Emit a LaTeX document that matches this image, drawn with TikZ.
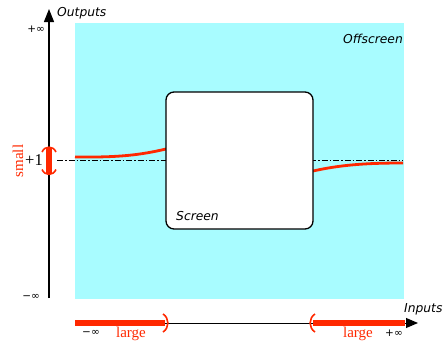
\documentclass[tikz,border=0pt]{standalone}
\usepackage{fontspec}
\setmainfont{Liberation Serif}
\newfontfamily\dvs{DejaVu Sans}
\usetikzlibrary{arrows.meta}
\definecolor{offcyan}{RGB}{168,252,255}
\definecolor{hot}{RGB}{255,40,0}
\tikzset{
  axis/.style={black, line width=1.2pt},
  lbl/.style={font=\dvs\itshape\fontsize{12.3}{14}\selectfont, inner sep=0pt},
  inf/.style={font=\dvs\fontsize{10.5}{12}\selectfont, inner sep=0pt},
  redtxt/.style={text=hot, font=\fontsize{15}{17}\selectfont, inner sep=0pt},
  redbar/.style={hot, line width=6.5pt},
  redarc/.style={hot, line width=1.6pt},
  redcurve/.style={hot, line width=2.8pt},
  dashdot/.style={black, line width=0.9pt, dash pattern=on 6pt off 2pt on 1.5pt off 2pt},
}
\begin{document}
\begin{tikzpicture}[x=1pt,y=-1pt]
\useasboundingbox (0,0) rectangle (445,346);
% offscreen region
\fill[offcyan] (75,23) rectangle (404,299);
\node[lbl, anchor=east] (off) at (403,39) {Offscreen};
% dash-dot reference line
\coordinate (dl0) at (57,160.5);
\coordinate (dl1) at (403,160.5);
\draw[dashdot] (dl0) -- (dl1);
% red curves
\coordinate (cl0) at (75,157);
\coordinate (cl1) at (166,149);
\draw[redcurve] (cl0) .. controls (120,157.5) and (140,155) .. (cl1);
\coordinate (cr0) at (313,171);
\coordinate (cr1) at (403,163);
\draw[redcurve] (cr0) .. controls (340,165) and (365,163) .. (cr1);
% screen
\draw[black, line width=1.3pt, fill=white, rounded corners=8pt] (166,92) rectangle (313,229);
\node[lbl, anchor=west] (scr) at (176,216) {Screen};
% y axis
\coordinate (ybot) at (49,298);
\coordinate (ytop) at (49,9);
\draw[axis, -{Triangle[length=13pt,width=10pt]}] (ybot) -- (ytop);
\node[lbl, anchor=west] (out) at (57,13) {Outputs};
\node[inf, anchor=east] (pinf) at (45,29) {+∞};
\node[inf, anchor=east] (minf) at (40,297) {−∞};
% small bracket
\coordinate (sb0) at (49,147);
\coordinate (sb1) at (49,174);
\draw[redbar] (sb0) -- (sb1);
\draw[redarc] (42,152) .. controls (45,145.5) and (53,145.5) .. (56,152);
\draw[redarc] (42,169.5) .. controls (45,176) and (53,176) .. (56,169.5);
\node[font=\fontsize{16.5}{18}\selectfont, inner sep=0pt, anchor=east] (one) at (43,160.5) {+1};
\node[redtxt, rotate=90] (small) at (18,161) {small};
% x axis
\coordinate (xl) at (75,323);
\coordinate (xr) at (418,323);
\draw[black, line width=1pt, -{Triangle[length=12pt,width=10pt]}] (xl) -- (xr);
\coordinate (lb1) at (165,323);
\draw[redbar] (xl) -- (lb1);
\draw[redarc] (163,314) .. controls (169.5,318) and (169.5,328) .. (163,332);
\coordinate (rb0) at (313,323);
\coordinate (rb1) at (405,323);
\draw[redbar] (rb0) -- (rb1);
\draw[redarc] (315,314) .. controls (308.5,318) and (308.5,328) .. (315,332);
\node[lbl, anchor=west] (inp) at (404,309) {Inputs};
\node[inf] (bminf) at (91,333) {−∞};
\node[redtxt] (lg1) at (131,334) {large};
\node[redtxt] (lg2) at (358,334) {large};
\node[inf] (bpinf) at (394,333) {+∞};
\end{tikzpicture}
\end{document}
